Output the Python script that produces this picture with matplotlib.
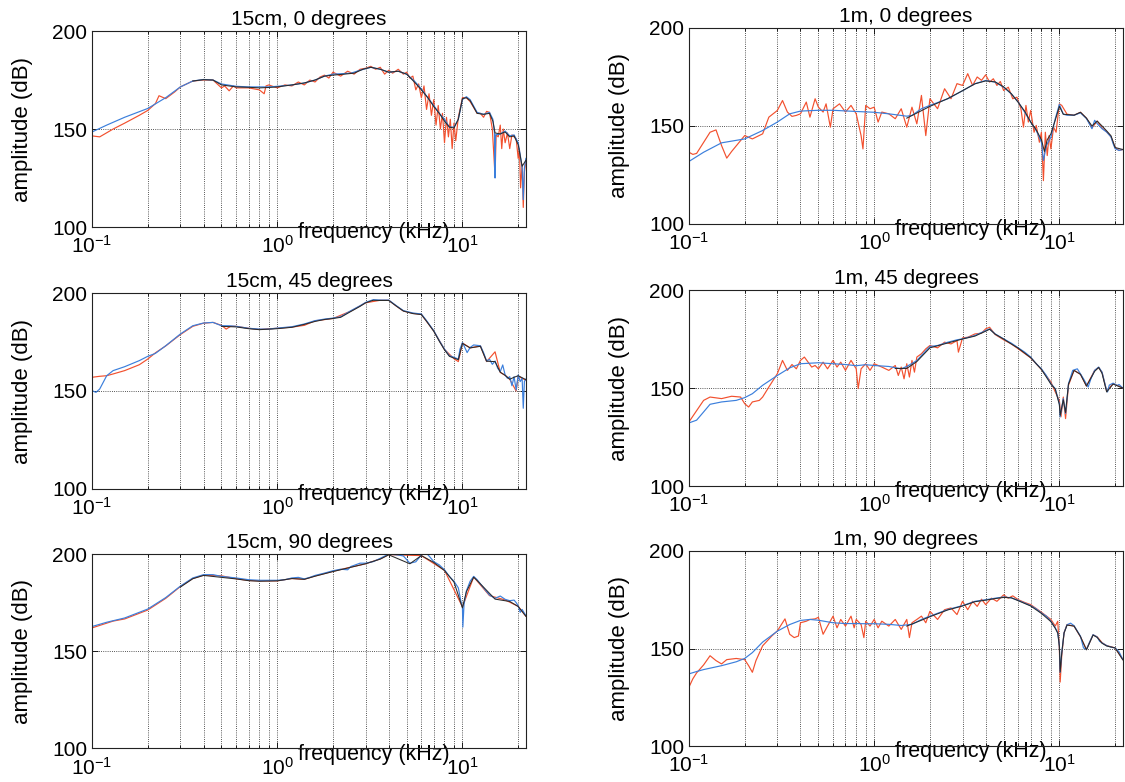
import matplotlib
matplotlib.use('Agg')
import matplotlib.pyplot as plt
from matplotlib.ticker import FixedLocator, NullFormatter

plt.rcParams['font.family'] = ['Liberation Sans', 'DejaVu Sans']
plt.rcParams['mathtext.default'] = 'regular'

# ---------------- data (frequency in kHz, amplitude in dB) ----------------
# 15cm, 0 degrees
f_15cm_0_red = [0.1, 0.11, 0.13, 0.15, 0.18, 0.2, 0.22, 0.23, 0.25, 0.28,
                0.3, 0.35, 0.4, 0.45, 0.5, 0.52, 0.55, 0.58, 0.6, 0.7,
                0.8, 0.85, 0.87, 0.9, 1.0, 1.1, 1.2, 1.3, 1.4, 1.5,
                1.6, 1.7, 1.8, 1.9, 2.0, 2.2, 2.4, 2.6, 2.8, 3.0,
                3.2, 3.4, 3.6, 3.8, 4.0, 4.2, 4.5, 4.8, 5.0, 5.2,
                5.4, 5.6, 5.8, 6.0, 6.2, 6.4, 6.6, 6.8, 7.0, 7.2,
                7.4, 7.6, 7.8, 8.0, 8.2, 8.4, 8.6, 8.8, 9.0, 9.2,
                9.5, 9.8, 10, 10.5, 11, 11.5, 12, 12.5, 13, 13.5,
                14, 14.5, 15, 15.2, 15.6, 16, 16.3, 16.6, 17, 17.5,
                18, 18.5, 19, 19.5, 20, 20.3, 20.6, 21, 21.3, 21.6, 22]
db_15cm_0_red = [146.5, 146, 150, 153, 157, 159.5, 163, 167, 165.5, 169,
                 171.5, 174.5, 175, 175, 171, 172, 169.5, 172, 171, 171,
                 170, 168, 172, 172.5, 171, 172.5, 172, 174, 172.5, 175,
                 174, 176.5, 177.5, 176, 179, 177, 179.5, 178, 180.5, 181,
                 182, 180.5, 181.5, 178, 180, 178.5, 180.5, 178, 179, 176,
                 177, 170, 173, 166, 172, 160, 168, 157, 165, 152,
                 162, 150, 158, 143, 156, 146, 155, 140, 153, 144,
                 156, 162, 166, 166, 164, 161, 158, 158, 156, 159,
                 158.5, 150, 126, 147, 146, 152, 140, 150, 143, 148,
                 140, 147, 146, 145, 135, 140, 120, 132, 110, 128, 134]
f_15cm_0_blue = [0.1, 0.12, 0.15, 0.2, 0.25, 0.3, 0.35, 0.4, 0.45, 0.5,
                 0.6, 0.7, 0.8, 0.9, 1.0, 1.2, 1.4, 1.6, 1.8, 2.0,
                 2.5, 2.8, 3.2, 3.6, 4.0, 4.5, 5.0, 5.5, 6.0, 6.5,
                 7.0, 7.5, 8.0, 8.5, 9.0, 9.5, 10, 10.5, 11, 12,
                 13, 14, 14.6, 14.9, 15.0, 15.1, 16, 17, 18, 19,
                 20, 20.5, 21, 21.3, 21.6, 22]
db_15cm_0_blue = [148.5, 152, 156, 160.5, 166, 171.5, 174.5, 175.3, 175, 173,
                  171.8, 171.5, 171.5, 171.5, 171.8, 172.5, 173.5, 175, 177, 178,
                  178.5, 180, 181.5, 180.5, 179, 179.5, 178, 174.5, 170.5, 166,
                  162, 158, 155, 151, 151, 155, 165, 166.5, 165, 158.5,
                  157.5, 158.5, 155, 148, 125, 147, 147.5, 149, 146.5, 147,
                  143, 137, 130, 114, 130, 135]
f_15cm_0_black = [0.35, 0.4, 0.45, 0.5, 0.6, 0.7, 0.8, 0.9, 1.0, 1.2,
                  1.4, 1.6, 1.8, 2.0, 2.3, 2.6, 2.9, 3.2, 3.6, 4.0,
                  4.5, 5.0, 5.5, 6.0, 6.5, 7.0, 7.5, 8.0, 8.5, 9.0,
                  9.5, 10, 10.5, 11, 12, 13, 14, 14.6, 15, 16,
                  17, 18, 19, 20, 21, 22]
db_15cm_0_black = [174.5, 175.2, 175, 172.5, 171.5, 171.3, 171, 171.2, 171.5, 172.5,
                   173.5, 175, 177, 177.5, 178, 178.5, 180.5, 181.5, 180.5, 179,
                   179.5, 178, 174, 170, 166, 161.5, 158, 154, 151, 150.5,
                   155, 165.5, 166, 164.5, 158, 157.5, 158, 154, 148, 147.5,
                   148.5, 146, 146.5, 142, 131, 134]

# 1m, 0 degrees
f_1m_0_red = [0.1, 0.105, 0.11, 0.13, 0.14, 0.15, 0.16, 0.17, 0.2, 0.22,
              0.25, 0.27, 0.3, 0.32, 0.34, 0.36, 0.38, 0.4, 0.43, 0.45,
              0.48, 0.5, 0.53, 0.55, 0.58, 0.6, 0.65, 0.7, 0.75, 0.8,
              0.85, 0.87, 0.9, 0.95, 1.0, 1.05, 1.1, 1.2, 1.3, 1.4,
              1.5, 1.6, 1.7, 1.8, 1.9, 2.0, 2.2, 2.4, 2.6, 2.8,
              3.0, 3.2, 3.4, 3.6, 3.8, 4.0, 4.2, 4.4, 4.6, 4.8,
              5.0, 5.3, 5.6, 5.9, 6.2, 6.4, 6.6, 6.8, 7.0, 7.3,
              7.5, 7.8, 8.0, 8.2, 8.4, 8.6, 8.8, 9.0, 9.3, 9.6,
              10, 10.3, 11, 12, 13, 14, 15, 16, 17, 18,
              19, 20, 21, 22]
db_1m_0_red = [136.6, 135.5, 136, 146.8, 148, 140, 133.6, 137, 145.1, 143.4,
               146, 154.5, 157.9, 163, 157.1, 154.9, 155.4, 156.2, 162.2, 154.5,
               163.9, 159.6, 157.1, 161.3, 149.4, 158.8, 161.3, 157.1, 160.5, 156.2,
               145.1, 138.3, 160.5, 158.8, 159.6, 152, 157.1, 156.2, 153.7, 158.8,
               149.4, 159.6, 151.1, 165.6, 145.1, 163.9, 158.8, 169, 163.9, 171.6,
               170.7, 176.7, 170.7, 175, 173.3, 176.1, 172.4, 174.1, 170.7, 172.7,
               168.1, 169.8, 163.9, 164.7, 158.8, 149.4, 160.5, 152, 157.9, 146.8,
               150.3, 141.7, 146.8, 122.1, 146.8, 134.9, 145.1, 138.3, 149.4, 146.8,
               161.3, 160.5, 156, 155.5, 157, 154, 149, 152.5, 149, 147,
               144.5, 139, 137.5, 138]
f_1m_0_blue = [0.1, 0.12, 0.15, 0.2, 0.25, 0.3, 0.35, 0.4, 0.5, 0.6,
               0.8, 1.0, 1.2, 1.5, 1.6, 1.8, 2.0, 2.5, 3.0, 3.5,
               4.0, 4.5, 5.0, 5.5, 6.0, 6.5, 7.0, 7.5, 8.0, 8.2,
               8.5, 9.0, 9.5, 10, 10.5, 11, 12, 13, 14, 15,
               15.5, 16, 17, 18, 19, 19.5, 20, 21, 22]
db_1m_0_blue = [131.9, 136.6, 141.4, 143.4, 147.7, 152, 156.2, 157.6, 158, 158,
                157.4, 157, 156.2, 155, 155.4, 158.8, 160.5, 163.9, 168, 171.6,
                173.2, 172.4, 169.8, 166.4, 162.2, 157, 152, 147.7, 141.7, 132.4,
                140, 144.3, 153.7, 161, 156, 155.5, 155.5, 156.7, 153.8, 148.6,
                152.9, 151.2, 148.6, 146.9, 144.4, 141, 138.4, 137.5, 138]
f_1m_0_black = [1.5, 2, 2.5, 3, 3.5, 4, 4.5, 5, 5.5, 6,
                6.5, 7, 7.5, 8, 8.3, 8.6, 9, 9.5, 10, 10.5,
                12, 13, 14, 15, 16, 17, 18, 19, 20, 22]
db_1m_0_black = [154, 160, 164, 168, 171.5, 173, 172.5, 170, 166.5, 162,
                 157.5, 152, 148, 143, 137, 143, 146, 153, 160, 156,
                 155.5, 157, 154, 150, 152.5, 150, 147.5, 145, 139, 138]

# 15cm, 45 degrees
f_15cm_45_red = [0.1, 0.11, 0.12, 0.13, 0.15, 0.18, 0.2, 0.22, 0.25, 0.3,
                 0.35, 0.4, 0.45, 0.5, 0.53, 0.56, 0.6, 0.7, 0.8, 1.0,
                 1.2, 1.4, 1.6, 2.0, 2.5, 3.0, 3.6, 4.0, 4.4, 4.8,
                 5.4, 6.0, 7.0, 8.0, 9.0, 9.5, 10, 11, 12.5, 13.5,
                 15, 16, 17, 18, 19.5, 20, 22]
db_15cm_45_red = [157, 157.5, 157.8, 158.7, 160.4, 163.4, 166.3, 169.5, 173, 178.8,
                  183, 184.6, 185, 183.5, 181.6, 183, 183, 182, 181.4, 182,
                  182.6, 183.5, 185.8, 187, 190.8, 195, 196.3, 196.3, 193.3, 190.8,
                  189.6, 189.1, 180.6, 171.2, 166.5, 165, 174.5, 172, 173, 165,
                  170, 159.5, 158, 156, 150, 157.5, 155.5]
f_15cm_45_blue = [0.1, 0.105, 0.11, 0.12, 0.13, 0.15, 0.18, 0.2, 0.22, 0.25,
                  0.3, 0.35, 0.4, 0.45, 0.5, 0.55, 0.6, 0.7, 0.8, 0.9,
                  1.0, 1.2, 1.4, 1.6, 1.8, 2.0, 2.2, 2.5, 2.8, 3.0,
                  3.3, 3.6, 4.0, 4.4, 4.8, 5.4, 6.0, 6.4, 7.0, 7.5,
                  8.0, 8.5, 9.0, 9.5, 9.7, 10.0, 10.3, 10.6, 11, 11.5,
                  12.5, 13, 13.5, 14, 14.5, 15, 15.5, 16, 16.5, 17,
                  17.5, 18, 18.5, 19, 19.5, 20, 20.5, 21, 21.3, 21.6, 22]
db_15cm_45_blue = [150.2, 149.3, 151, 157.8, 160.4, 162.4, 165.5, 167.7, 169.2, 173.1,
                   179.1, 183.3, 184.7, 185, 183.3, 183.3, 183, 182, 181.6, 181.6,
                   182.1, 182.8, 184.2, 185.9, 186.7, 187.2, 187.9, 191, 193.5, 195.2,
                   196.6, 196.4, 196.4, 193.5, 191, 189.8, 189.3, 185.9, 180.8, 175.7,
                   171.4, 168, 167.2, 166.3, 171.4, 174.7, 172.2, 169.6, 172.2, 173.5,
                   173.1, 169.6, 165.3, 166.2, 163.6, 165.3, 161.6, 159.9, 163.3, 158.2,
                   156.5, 157.3, 152.7, 157.3, 150.5, 158.2, 154.8, 156.5, 141.2, 154.8, 156.1]
f_15cm_45_black = [0.5, 0.6, 0.7, 0.8, 1.0, 1.2, 1.4, 1.6, 1.8, 2.0,
                   2.2, 2.5, 2.8, 3.0, 3.3, 3.6, 4.0, 4.4, 4.8, 5.4,
                   6.0, 6.4, 7.0, 7.5, 8.0, 8.5, 9.0, 9.5, 10, 11,
                   12.5, 13.5, 15, 16, 17, 18, 19, 20, 22]
db_15cm_45_black = [183, 182.7, 181.8, 181.3, 181.8, 182.5, 184, 185.5, 186.5, 187,
                    187.6, 190.6, 193.2, 195, 196.3, 196.2, 196.2, 193.3, 190.8, 189.5,
                    189, 185.6, 180.5, 175.4, 171, 167.7, 166.8, 166, 174.3, 172,
                    172.8, 165.2, 165, 159.6, 158, 156, 157, 157.8, 155.8]

# 1m, 45 degrees
f_1m_45_red = [0.1, 0.12, 0.13, 0.15, 0.17, 0.19, 0.2, 0.21, 0.22, 0.24,
               0.25, 0.27, 0.3, 0.32, 0.34, 0.36, 0.38, 0.4, 0.42, 0.44,
               0.46, 0.48, 0.5, 0.53, 0.56, 0.6, 0.63, 0.66, 0.7, 0.75,
               0.8, 0.82, 0.85, 0.9, 0.95, 1.0, 1.1, 1.2, 1.3, 1.35,
               1.4, 1.45, 1.5, 1.55, 1.6, 1.65, 1.7, 1.8, 1.9, 2.0,
               2.2, 2.4, 2.6, 2.8, 2.85, 3.0, 3.2, 3.5, 3.8, 4.0,
               4.2, 4.5, 5, 5.5, 6, 7, 8, 9, 9.5, 10,
               10.2, 10.5, 10.8, 11.2, 12, 13, 14, 15.5, 16.3, 17,
               18, 19.5, 22]
db_1m_45_red = [132.7, 143.7, 145.4, 144.6, 145.8, 145.4, 142, 140.3, 142.9, 143.7,
                145.4, 150.5, 157.3, 164.1, 159, 162, 159.8, 164.1, 165.8, 163.2,
                160.7, 161.5, 159.8, 163.2, 159.8, 164.1, 160.7, 163.2, 159, 164.1,
                159.8, 149.7, 159.8, 162.4, 159, 162.4, 160.7, 159, 161.5, 156.4,
                160.7, 154.7, 162.4, 155.6, 164.1, 158.1, 165.8, 167.5, 170, 171.7,
                170.5, 173.4, 172.5, 174.2, 168.3, 175.6, 175.9, 177.6, 178, 180.2,
                181, 177.3, 174.6, 172.5, 170, 165.4, 159.5, 153.1, 148, 143.7,
                135.3, 145.4, 134.4, 151.4, 159, 157, 151, 159, 160.5, 158,
                148.5, 152.3, 150]
f_1m_45_blue = [0.1, 0.11, 0.12, 0.13, 0.15, 0.18, 0.2, 0.22, 0.25, 0.3,
                0.35, 0.4, 0.5, 0.6, 0.7, 0.8, 0.9, 1.0, 1.2, 1.4,
                1.5, 1.7, 1.8, 2.0, 2.2, 2.5, 2.8, 3.0, 3.5, 4.0,
                4.2, 4.5, 5.0, 5.5, 6.0, 6.5, 7.0, 7.5, 8.0, 8.5,
                9.0, 9.5, 10.0, 10.1, 10.5, 10.8, 11.2, 11.8, 12.5, 13.5,
                14.3, 14.8, 15.5, 16.3, 17, 17.8, 18.2, 18.6, 19.5, 20.5,
                21, 22]
db_1m_45_blue = [132.2, 133.6, 137.8, 141.7, 142.9, 143.7, 145.1, 147.1, 151.4, 156.4,
                 160.3, 162.4, 162.9, 162.4, 162, 161.4, 161.9, 161.5, 161, 159.8,
                 161, 164, 166.6, 171.2, 171.7, 173.4, 174.6, 175.1, 176.8, 179.3,
                 180.2, 177.6, 175.1, 172.9, 170.5, 168.3, 165.8, 162.4, 159.8, 156.4,
                 152.2, 149.7, 142, 135.3, 144.6, 137, 152.2, 159, 159.8, 154.7,
                 150.5, 154.7, 159, 160.7, 158.1, 150.5, 148, 151.5, 152.5, 151.3,
                 151.8, 150]
f_1m_45_black = [1.3, 1.5, 1.7, 2.0, 2.5, 3.0, 3.5, 4.0, 4.2, 4.5,
                 5, 5.5, 6, 7, 8, 9, 9.5, 10, 10.1, 10.5,
                 10.8, 11.2, 12, 13, 14, 15.5, 16.3, 17, 18, 19.5, 22]
db_1m_45_black = [160, 160, 163.5, 170.5, 173, 175, 176.5, 179, 180, 177.5,
                  175, 172.5, 170.3, 165.5, 159.5, 152, 149.5, 141.5, 136, 144,
                  137.5, 152, 159, 157, 151, 158.5, 160.5, 157.5, 148, 152, 150]

# 15cm, 90 degrees
f_15cm_90_red = [0.1, 0.13, 0.15, 0.2, 0.25, 0.3, 0.35, 0.4, 0.5, 0.6,
                 0.7, 0.8, 1.0, 1.2, 1.4, 1.6, 2.0, 2.5, 3.0, 3.6,
                 4.0, 6.0, 8.0, 10, 11.5, 14, 17, 20, 22]
db_15cm_90_red = [162, 165.5, 166.6, 171.2, 177.2, 183.3, 187.4, 189.1, 188.8, 187.3,
                  186.4, 186.2, 186.2, 187.4, 187, 188.7, 191.1, 193.3, 195, 197.5,
                  199.7, 199.2, 191.6, 172.8, 188.2, 178.6, 176.4, 173.1, 168]
f_15cm_90_blue = [0.1, 0.12, 0.15, 0.2, 0.25, 0.3, 0.35, 0.4, 0.45, 0.5,
                  0.6, 0.7, 0.8, 0.9, 1.0, 1.1, 1.2, 1.3, 1.4, 1.5,
                  1.6, 1.8, 2.0, 2.2, 2.4, 2.5, 2.8, 3.0, 3.3, 3.6,
                  4.0, 4.5, 4.8, 5.2, 5.6, 6.0, 6.3, 6.6, 7.0, 7.5,
                  8.0, 8.5, 9.0, 9.5, 9.8, 10.0, 10.05, 10.2, 10.5, 11,
                  11.5, 12, 13, 14, 15, 16, 17, 18, 19, 19.5,
                  20, 20.5, 21, 22]
db_15cm_90_blue = [162.7, 164.9, 167.1, 171.7, 177.6, 183.5, 187.7, 189.4, 189.4, 188.5,
                   187.7, 186.8, 186.5, 186.5, 186.5, 186.8, 187.7, 188, 187.2, 188,
                   189, 190.2, 191.4, 192.2, 191.9, 193.6, 195.3, 195.3, 196.1, 197.8,
                   200, 199.5, 199, 195.3, 196, 199.5, 201, 199, 196.1, 194.4,
                   191.9, 188.5, 186, 182.6, 175.9, 172.5, 162.4, 174.2, 181, 186,
                   188.5, 186.8, 182.6, 178.9, 177.2, 178.4, 176.7, 176, 176.3, 175,
                   173.4, 170, 171.5, 168.3]
f_15cm_90_black = [0.3, 0.35, 0.4, 0.5, 0.6, 0.7, 0.8, 1.0, 1.2, 1.4,
                   1.6, 2.0, 2.5, 3.0, 3.6, 4.0, 5.2, 6.0, 7.0, 8.0,
                   9.0, 10, 10.5, 11.5, 12, 15, 18, 20, 22]
db_15cm_90_black = [183, 187.3, 189, 188, 187.2, 186.3, 186, 186.2, 187.4, 187,
                    188.6, 191, 193.2, 195, 197.4, 199.6, 195, 199.2, 195.7, 191.5,
                    185.6, 172.3, 180.6, 188.1, 186.4, 176.8, 175.6, 173, 168]

# 1m, 90 degrees
f_1m_90_red = [0.1, 0.105, 0.11, 0.12, 0.13, 0.14, 0.15, 0.16, 0.18, 0.2,
               0.21, 0.22, 0.23, 0.25, 0.28, 0.3, 0.32, 0.33, 0.35, 0.37,
               0.39, 0.4, 0.43, 0.45, 0.48, 0.5, 0.53, 0.56, 0.6, 0.63,
               0.66, 0.7, 0.75, 0.78, 0.8, 0.85, 0.88, 0.9, 0.95, 1.0,
               1.05, 1.1, 1.2, 1.3, 1.4, 1.5, 1.55, 1.6, 1.7, 1.8,
               1.9, 2.0, 2.2, 2.4, 2.6, 2.8, 3.0, 3.2, 3.4, 3.6,
               3.8, 4.0, 4.3, 4.6, 5.0, 5.3, 5.6, 6.0, 6.5, 7,
               8, 9, 9.5, 9.8, 10.0, 10.1, 10.3, 10.6, 11, 12,
               13, 14, 15.2, 16, 17, 18, 20, 22]
db_1m_90_red = [130.2, 134.5, 137.5, 141.6, 146.3, 143.8, 142.1, 144.3, 144.9, 144.3,
                141.2, 137.8, 143.8, 151.4, 156.4, 159, 163.2, 165.2, 157.3, 155.6,
                156.4, 163.2, 164, 164.9, 165.2, 166, 157.3, 161.5, 166.6, 160.6,
                164.9, 161.5, 166.6, 160.6, 164.9, 162.3, 155.6, 164, 161.5, 164.9,
                160.6, 164, 161.5, 164.9, 159.8, 164.9, 155.6, 163.2, 164.9, 166.6,
                163.2, 169.1, 164.9, 169.9, 170.8, 167.4, 174.2, 169.9, 174.2, 171.6,
                175.3, 172.5, 175.8, 174.2, 177.5, 175.8, 177, 175, 173.6, 172.5,
                168.6, 164.9, 161.5, 164, 149.7, 132.8, 146.3, 158.1, 162.3, 161.5,
                156, 149.5, 157, 156, 153, 151.5, 150.3, 144.4]
f_1m_90_blue = [0.1, 0.11, 0.12, 0.15, 0.18, 0.2, 0.22, 0.25, 0.3, 0.35,
                0.4, 0.45, 0.5, 0.6, 0.7, 0.8, 0.9, 1.0, 1.2, 1.4,
                1.6, 1.8, 2.0, 2.5, 3.0, 3.5, 4.0, 4.5, 5.0, 5.5,
                6.0, 6.5, 7.0, 7.5, 8.0, 8.5, 9.0, 9.5, 9.8, 10.0,
                10.1, 10.3, 10.6, 11, 11.5, 12, 13, 13.5, 14, 14.5,
                15.2, 16, 16.5, 17, 18, 19, 20, 21, 22]
db_1m_90_blue = [137, 138.2, 139.2, 141.2, 143.2, 144.9, 147.9, 153.3, 158.9, 162.3,
                 164.4, 164.9, 164.5, 163.2, 162.8, 162.8, 162.7, 162.7, 162.4, 161.8,
                 162.4, 164.9, 166.6, 170, 172, 174.2, 175, 175.8, 176.4, 176,
                 174.7, 173.3, 172, 170.3, 168.2, 166.6, 164, 160.6, 158.1, 151.4,
                 137.8, 147.8, 158.1, 162.2, 163, 161.7, 156.3, 150.3, 149.5, 152.9,
                 157.1, 155.9, 153.7, 152.9, 151.5, 150.7, 150.3, 148.3, 144.4]
f_1m_90_black = [1.5, 1.8, 2.0, 2.5, 3.0, 3.5, 4.0, 4.5, 5.0, 5.5,
                 6, 6.5, 7, 8, 9, 9.5, 9.8, 10, 10.1, 10.3,
                 10.6, 11, 12, 13, 14, 15.2, 16, 17, 18, 20, 22]
db_1m_90_black = [161.5, 164.5, 166.3, 169.8, 171.8, 174, 174.8, 175.6, 176.2, 176,
                  174.5, 173.1, 171.8, 168, 163.8, 160.4, 157.9, 151.2, 138, 147.6,
                  157.9, 162, 161.5, 156.1, 149.3, 156.9, 155.7, 152.7, 151.3, 150.3, 144.2]

titles = ['15cm, 0 degrees', '1m, 0 degrees',
          '15cm, 45 degrees', '1m, 45 degrees',
          '15cm, 90 degrees', '1m, 90 degrees']
major_f = [0.1, 1, 10]
major_lbl = [r'$10^{-1}$', r'$10^{0}$', r'$10^{1}$']
minor_f = [0.2, 0.3, 0.4, 0.5, 0.6, 0.7, 0.8, 0.9,
           2, 3, 4, 5, 6, 7, 8, 9, 20]
y_ticks = [100, 150, 200]

RED = '#f2502e'
BLUE = '#3b7fdc'
BLACK = '#2a2a2a'

fig = plt.figure(figsize=(11.25, 7.82), dpi=100)

# axes rectangles [left, bottom, width, height] in figure fractions
rects = [[0.0818, 0.7097, 0.3858, 0.2506], [0.6124, 0.7136, 0.3858, 0.2506],
         [0.0818, 0.3747, 0.3858, 0.2506], [0.6124, 0.3785, 0.3858, 0.2506],
         [0.0818, 0.0430, 0.3858, 0.2485], [0.6124, 0.0460, 0.3858, 0.2494]]

series = [
    (f_15cm_0_red, db_15cm_0_red, f_15cm_0_blue, db_15cm_0_blue, f_15cm_0_black, db_15cm_0_black),
    (f_1m_0_red, db_1m_0_red, f_1m_0_blue, db_1m_0_blue, f_1m_0_black, db_1m_0_black),
    (f_15cm_45_red, db_15cm_45_red, f_15cm_45_blue, db_15cm_45_blue, f_15cm_45_black, db_15cm_45_black),
    (f_1m_45_red, db_1m_45_red, f_1m_45_blue, db_1m_45_blue, f_1m_45_black, db_1m_45_black),
    (f_15cm_90_red, db_15cm_90_red, f_15cm_90_blue, db_15cm_90_blue, f_15cm_90_black, db_15cm_90_black),
    (f_1m_90_red, db_1m_90_red, f_1m_90_blue, db_1m_90_blue, f_1m_90_black, db_1m_90_black),
]

for rect, title, (fr, dr, fb, dbb, fk, dk) in zip(rects, titles, series):
    ax = fig.add_axes(rect)
    ax.semilogx(fr, dr, color=RED, lw=0.85)
    ax.semilogx(fb, dbb, color=BLUE, lw=0.85)
    ax.semilogx(fk, dk, color=BLACK, lw=0.75)

    ax.set_xlim(0.1, 22.05)
    ax.set_ylim(100, 200)
    ax.set_yticks(y_ticks)
    ax.set_xticks(major_f)
    ax.set_xticklabels(major_lbl)
    ax.xaxis.set_minor_locator(FixedLocator(minor_f))
    ax.xaxis.set_minor_formatter(NullFormatter())

    ax.grid(True, which='both', axis='x', color='#222222', linestyle=(0, (1, 1.6)), lw=0.6)
    ax.grid(True, which='major', axis='y', color='#222222', linestyle=(0, (1, 1.6)), lw=0.6)

    ax.tick_params(which='both', direction='in', top=True, right=True, width=0.6)
    ax.tick_params(which='major', length=4, labelsize=15)
    ax.tick_params(which='minor', length=2)
    ax.tick_params(axis='x', pad=6)
    for sp in ax.spines.values():
        sp.set_linewidth(0.8)
        sp.set_color('#222222')

    ax.set_title(title, fontsize=15, pad=4)
    ax.set_ylabel('amplitude (dB)', fontsize=16)
    ax.yaxis.set_label_coords(-0.135, 0.5)
    ax.set_xlabel('frequency (kHz)', fontsize=15.5)
    ax.xaxis.set_label_coords(0.65, 0.025)

fig.savefig('out.png', dpi=100)
